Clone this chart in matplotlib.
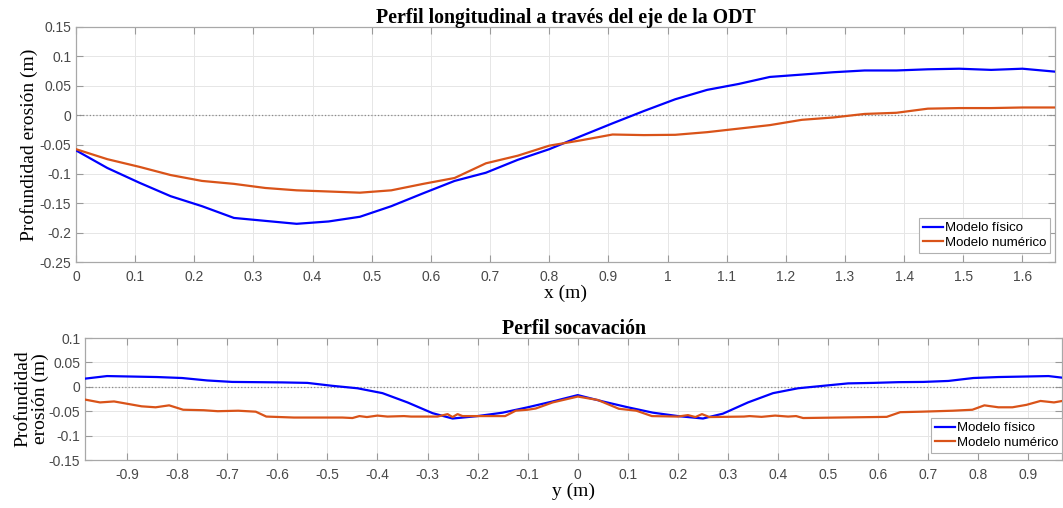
import matplotlib
matplotlib.use("Agg")
import matplotlib.pyplot as plt
import numpy as np

# ---- Data: top panel (longitudinal profile) ----
x_long = [0.0, 0.053, 0.107, 0.16, 0.213, 0.267, 0.32, 0.373, 0.427, 0.48, 0.533,
          0.587, 0.64, 0.693, 0.747, 0.8, 0.853, 0.907, 0.96, 1.013, 1.067, 1.12,
          1.173, 1.227, 1.28, 1.333, 1.387, 1.44, 1.493, 1.547, 1.6, 1.655]
fis_long = [-0.060, -0.090, -0.115, -0.138, -0.155, -0.175, -0.180, -0.185, -0.181,
            -0.173, -0.155, -0.133, -0.112, -0.098, -0.076, -0.058, -0.036, -0.014,
            0.007, 0.027, 0.043, 0.053, 0.065, 0.069, 0.073, 0.076, 0.076, 0.078,
            0.079, 0.077, 0.079, 0.074]
num_long = [-0.058, -0.075, -0.088, -0.102, -0.112, -0.117, -0.124, -0.128, -0.130,
            -0.132, -0.128, -0.117, -0.107, -0.082, -0.069, -0.052, -0.043, -0.033,
            -0.034, -0.0335, -0.029, -0.023, -0.017, -0.008, -0.004, 0.002, 0.004,
            0.011, 0.012, 0.012, 0.013, 0.013]

# ---- Data: bottom panel (scour profile) ----
y_fis = [-0.99, -0.94, -0.89, -0.84, -0.79, -0.74, -0.69, -0.64, -0.59, -0.54, -0.49,
         -0.44, -0.39, -0.34, -0.29, -0.25, -0.20, -0.15, -0.10, -0.05, 0.0, 0.05,
         0.10, 0.15, 0.20, 0.25, 0.29, 0.34, 0.39, 0.44, 0.49, 0.54, 0.59, 0.64,
         0.69, 0.74, 0.79, 0.84, 0.89, 0.94, 0.99]
fis_soc = [0.016, 0.022, 0.021, 0.020, 0.018, 0.013, 0.010, 0.0095, 0.009, 0.008, 0.002,
           -0.003, -0.013, -0.032, -0.054, -0.065, -0.060, -0.053, -0.042, -0.030, -0.017,
           -0.030, -0.042, -0.053, -0.060, -0.065, -0.055, -0.032, -0.013, -0.003, 0.002,
           0.007, 0.008, 0.0095, 0.010, 0.012, 0.018, 0.020, 0.021, 0.022, 0.016]
y_num = [-0.99, -0.954, -0.926, -0.871, -0.843, -0.816, -0.788, -0.747, -0.719, -0.678,
         -0.643, -0.622, -0.567, -0.47, -0.45, -0.436, -0.421, -0.40, -0.38, -0.347,
         -0.333, -0.30, -0.28, -0.26, -0.25, -0.24, -0.23, -0.20, -0.145, -0.124,
         -0.10, -0.084, -0.05, 0.0, 0.04, 0.082, 0.117, 0.148, 0.20, 0.22, 0.235,
         0.248, 0.263, 0.332, 0.343, 0.367, 0.394, 0.42, 0.436, 0.45, 0.617, 0.644,
         0.686, 0.749, 0.788, 0.812, 0.84, 0.868, 0.896, 0.924, 0.951, 0.99]
num_soc = [-0.025, -0.032, -0.030, -0.040, -0.042, -0.038, -0.047, -0.048, -0.050, -0.049,
           -0.051, -0.061, -0.063, -0.063, -0.064, -0.060, -0.062, -0.059, -0.061, -0.060,
           -0.061, -0.061, -0.061, -0.056, -0.062, -0.056, -0.060, -0.060, -0.060, -0.049,
           -0.047, -0.0445, -0.032, -0.020, -0.027, -0.045, -0.049, -0.060, -0.061, -0.058,
           -0.062, -0.056, -0.062, -0.061, -0.060, -0.0616, -0.059, -0.061, -0.060, -0.064,
           -0.0616, -0.052, -0.051, -0.049, -0.047, -0.038, -0.042, -0.042, -0.037, -0.029,
           -0.032, -0.025]

top_xticks = [0, 0.1, 0.2, 0.3, 0.4, 0.5, 0.6, 0.7, 0.8, 0.9, 1.0, 1.1, 1.2, 1.3, 1.4, 1.5, 1.6]
top_xlabels = ["0", "0.1", "0.2", "0.3", "0.4", "0.5", "0.6", "0.7", "0.8", "0.9", "1",
               "1.1", "1.2", "1.3", "1.4", "1.5", "1.6"]
top_yticks = [-0.25, -0.2, -0.15, -0.1, -0.05, 0, 0.05, 0.1, 0.15]
top_ylabels = ["-0.25", "-0.2", "-0.15", "-0.1", "-0.05", "0", "0.05", "0.1", "0.15"]
bot_xticks = [-0.9, -0.8, -0.7, -0.6, -0.5, -0.4, -0.3, -0.2, -0.1, 0, 0.1, 0.2, 0.3,
              0.4, 0.5, 0.6, 0.7, 0.8, 0.9]
bot_xlabels = ["-0.9", "-0.8", "-0.7", "-0.6", "-0.5", "-0.4", "-0.3", "-0.2", "-0.1", "0",
               "0.1", "0.2", "0.3", "0.4", "0.5", "0.6", "0.7", "0.8", "0.9"]
bot_yticks = [-0.15, -0.1, -0.05, 0, 0.05, 0.1]
bot_ylabels = ["-0.15", "-0.1", "-0.05", "0", "0.05", "0.1"]

BLUE = "#0000FF"
ORANGE = "#D95319"
SERIF = ["Liberation Serif", "DejaVu Serif"]
SANS = ["Liberation Sans", "DejaVu Sans"]

W, H = 1063, 508
fig = plt.figure(figsize=(W / 100, H / 100), dpi=100)


def box(l, t, r, b):
    return [l / W, 1 - b / H, (r - l) / W, (b - t) / H]


def style(ax, xt, xl, yt, yl):
    ax.set_xticks(xt)
    ax.set_xticklabels(xl)
    ax.set_yticks(yt)
    ax.set_yticklabels(yl)
    ax.tick_params(direction="in", top=True, right=True, length=5, width=0.8,
                   color="#9a9a9a", labelsize=10, labelcolor="#484848")
    ax.tick_params(axis="x", pad=6)
    for lab in ax.get_xticklabels() + ax.get_yticklabels():
        lab.set_family(SANS)
    for s in ax.spines.values():
        s.set_color("#a8a8a8")
        s.set_linewidth(0.9)
    ax.grid(True, color="#e6e6e6", linewidth=0.7)
    ax.set_axisbelow(True)
    ax.axhline(0, color="#8a8a8a", linestyle=":", linewidth=0.9, zorder=1)


def legend(ax, anchor):
    leg = ax.legend(loc="lower right", bbox_to_anchor=anchor,
                    bbox_transform=fig.transFigure,
                    prop={"family": SANS, "size": 9.5}, fancybox=False,
                    framealpha=1, edgecolor="#b0b0b0", handlelength=1.5,
                    handletextpad=0.15, borderpad=0.3, labelspacing=0.2,
                    borderaxespad=0.0)
    leg.get_frame().set_linewidth(0.8)
    return leg


ax1 = fig.add_axes(box(76, 27, 1055, 262))
ax1.plot(x_long, fis_long, color=BLUE, linewidth=1.6, label="Modelo físico", zorder=3)
ax1.plot(x_long, num_long, color=ORANGE, linewidth=1.6, label="Modelo numérico", zorder=3)
ax1.set_xlim(0, 1.655)
ax1.set_ylim(-0.25, 0.15)
style(ax1, top_xticks, top_xlabels, top_yticks, top_ylabels)
ax1.set_title("Perfil longitudinal a través del eje de la ODT", family=SERIF,
              fontweight="bold", fontsize=14.3, pad=3)
ax1.set_xlabel("x (m)", family=SERIF, fontsize=14, labelpad=0)
ax1.set_ylabel("Profundidad erosión (m)", family=SERIF, fontsize=14, labelpad=1)
legend(ax1, (1050 / W, 1 - 253 / H))

ax2 = fig.add_axes(box(85, 338, 1062, 460))
ax2.plot(y_fis, fis_soc, color=BLUE, linewidth=1.6, label="Modelo físico", zorder=3)
ax2.plot(y_num, num_soc, color=ORANGE, linewidth=1.6, label="Modelo numérico", zorder=3)
ax2.set_xlim(-0.984, 0.967)
ax2.set_ylim(-0.15, 0.1)
style(ax2, bot_xticks, bot_xlabels, bot_yticks, bot_ylabels)
ax2.set_title("Perfil socavación", family=SERIF, fontweight="bold", fontsize=14.3, pad=3)
ax2.set_xlabel("y (m)", family=SERIF, fontsize=14, labelpad=0)
ax2.set_ylabel("Profundidad\nerosión (m)", family=SERIF, fontsize=14, labelpad=0,
               linespacing=0.95)
legend(ax2, (1062 / W, 1 - 453 / H))

fig.savefig("out.png", dpi=100)
